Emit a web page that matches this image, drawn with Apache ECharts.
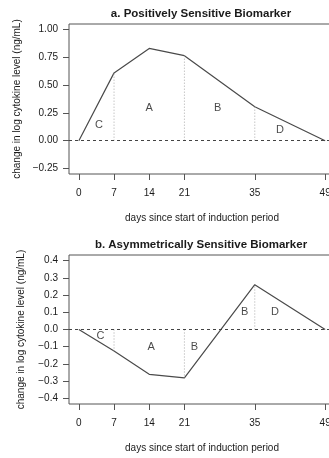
<!DOCTYPE html>
<html><head><meta charset="utf-8">
<script src="https://cdn.jsdelivr.net/npm/echarts@6/dist/echarts.min.js"></script>
<style>html,body{margin:0;padding:0;background:#fff;overflow:hidden}#c{width:336px;height:458px}</style>
</head><body><div id="c"></div>
<script>
const days = [0, 7, 14, 21, 35, 49];
const valuesA = [0, 0.61, 0.83, 0.765, 0.305, 0];
const valuesB = [0, -0.125, -0.26, -0.28, 0.26, 0];
const xTicks = [0, 7, 14, 21, 35, 49];
const yTicksA = [-0.25, 0, 0.25, 0.5, 0.75, 1.0];
const yTicksB = [-0.4, -0.3, -0.2, -0.1, 0, 0.1, 0.2, 0.3, 0.4];
const dividerDays = [7, 21, 35];
const lettersA = ['C', 'A', 'B', 'D'];
const letterDaysA = [4, 14, 27.6, 40];
const letterValsA = [0.145, 0.295, 0.295, 0.1];
const lettersB = ['C', 'A', 'B', 'B', 'D'];
const letterDaysB = [4.3, 14.4, 23, 33, 39];
const letterValsB = [-0.038, -0.1, -0.1, 0.1, 0.1];
const titles = ['a. Positively Sensitive Biomarker', 'b. Asymmetrically Sensitive Biomarker'];
const xTitle = 'days since start of induction period';
const yTitle = 'change in log cytokine level (ng/mL)';

const FONT = 'Liberation Sans, Arial, sans-serif';
const TXT = '#1a1a1a';
const fmt = d => v => (v < 0 ? '\u2212' : '') + Math.abs(v).toFixed(d);

function xAxis(i) {
  return {
    type: 'value', gridIndex: i, min: -1.96, max: 50.96,
    axisLine: {show: false, onZero: false}, splitLine: {show: false},
    axisTick: {show: true, inside: false, length: 6, customValues: xTicks, lineStyle: {color: '#555'}},
    axisLabel: {customValues: xTicks, color: TXT, fontFamily: FONT, fontSize: 10, margin: 14},
    name: xTitle, nameLocation: 'middle', nameGap: 39,
    nameTextStyle: {color: TXT, fontFamily: FONT, fontSize: 10}
  };
}
function yAxis(i, min, max, ticks, d) {
  return {
    type: 'value', gridIndex: i, min: min, max: max,
    axisLine: {show: false, onZero: false}, splitLine: {show: false},
    axisTick: {show: true, inside: false, length: 6, customValues: ticks, lineStyle: {color: '#555'}},
    axisLabel: {customValues: ticks, formatter: fmt(d), color: TXT, fontFamily: FONT, fontSize: 10, margin: 11},
    name: yTitle, nameLocation: 'middle', nameGap: 43,
    nameTextStyle: {color: TXT, fontFamily: FONT, fontSize: 10}
  };
}
function panelSeries(i, vals, letters, lDays, lVals) {
  const s = [];
  s.push({
    type: 'line', xAxisIndex: i, yAxisIndex: i, data: days.map((d, k) => [d, vals[k]]),
    symbol: 'none', lineStyle: {color: '#4a4a4a', width: 1.2}, silent: true,
    markLine: {silent: true, symbol: 'none', label: {show: false},
      lineStyle: {color: '#444', type: [3, 3], width: 1}, data: [{yAxis: 0}]}
  });
  dividerDays.forEach(dd => {
    const v = vals[days.indexOf(dd)];
    s.push({type: 'line', xAxisIndex: i, yAxisIndex: i, data: [[dd, 0], [dd, v]],
      symbol: 'none', silent: true, lineStyle: {color: '#aaa', width: 1, type: [1, 2]}});
  });
  s.push({type: 'scatter', xAxisIndex: i, yAxisIndex: i, symbolSize: 0, silent: true,
    data: letters.map((t, k) => ({value: [lDays[k], lVals[k]], name: t})),
    label: {show: true, position: 'inside', formatter: p => p.name, color: TXT, fontFamily: FONT, fontSize: 11}});
  return s;
}

const chart = echarts.init(document.getElementById('c'), null, {renderer: 'canvas'});
chart.setOption({
  animation: false,
  backgroundColor: '#fff',
  graphic: [
    {type: 'text', x: 201, y: 14, silent: true,
      style: {text: titles[0], textAlign: 'center', textVerticalAlign: 'middle', fill: TXT,
        font: 'bold 11.5px ' + FONT}},
    {type: 'text', x: 201, y: 245, silent: true,
      style: {text: titles[1], textAlign: 'center', textVerticalAlign: 'middle', fill: TXT,
        font: 'bold 11.5px ' + FONT}}
  ],
  grid: [
    {left: 69, top: 24, width: 266, height: 150, show: true, borderColor: '#555', borderWidth: 1, backgroundColor: 'transparent'},
    {left: 69, top: 255, width: 266, height: 149, show: true, borderColor: '#555', borderWidth: 1, backgroundColor: 'transparent'}
  ],
  xAxis: [xAxis(0), xAxis(1)],
  yAxis: [yAxis(0, -0.3, 1.05, yTicksA, 2), yAxis(1, -0.432, 0.432, yTicksB, 1)],
  series: [].concat(
    panelSeries(0, valuesA, lettersA, letterDaysA, letterValsA),
    panelSeries(1, valuesB, lettersB, letterDaysB, letterValsB)
  )
});
</script></body></html>
